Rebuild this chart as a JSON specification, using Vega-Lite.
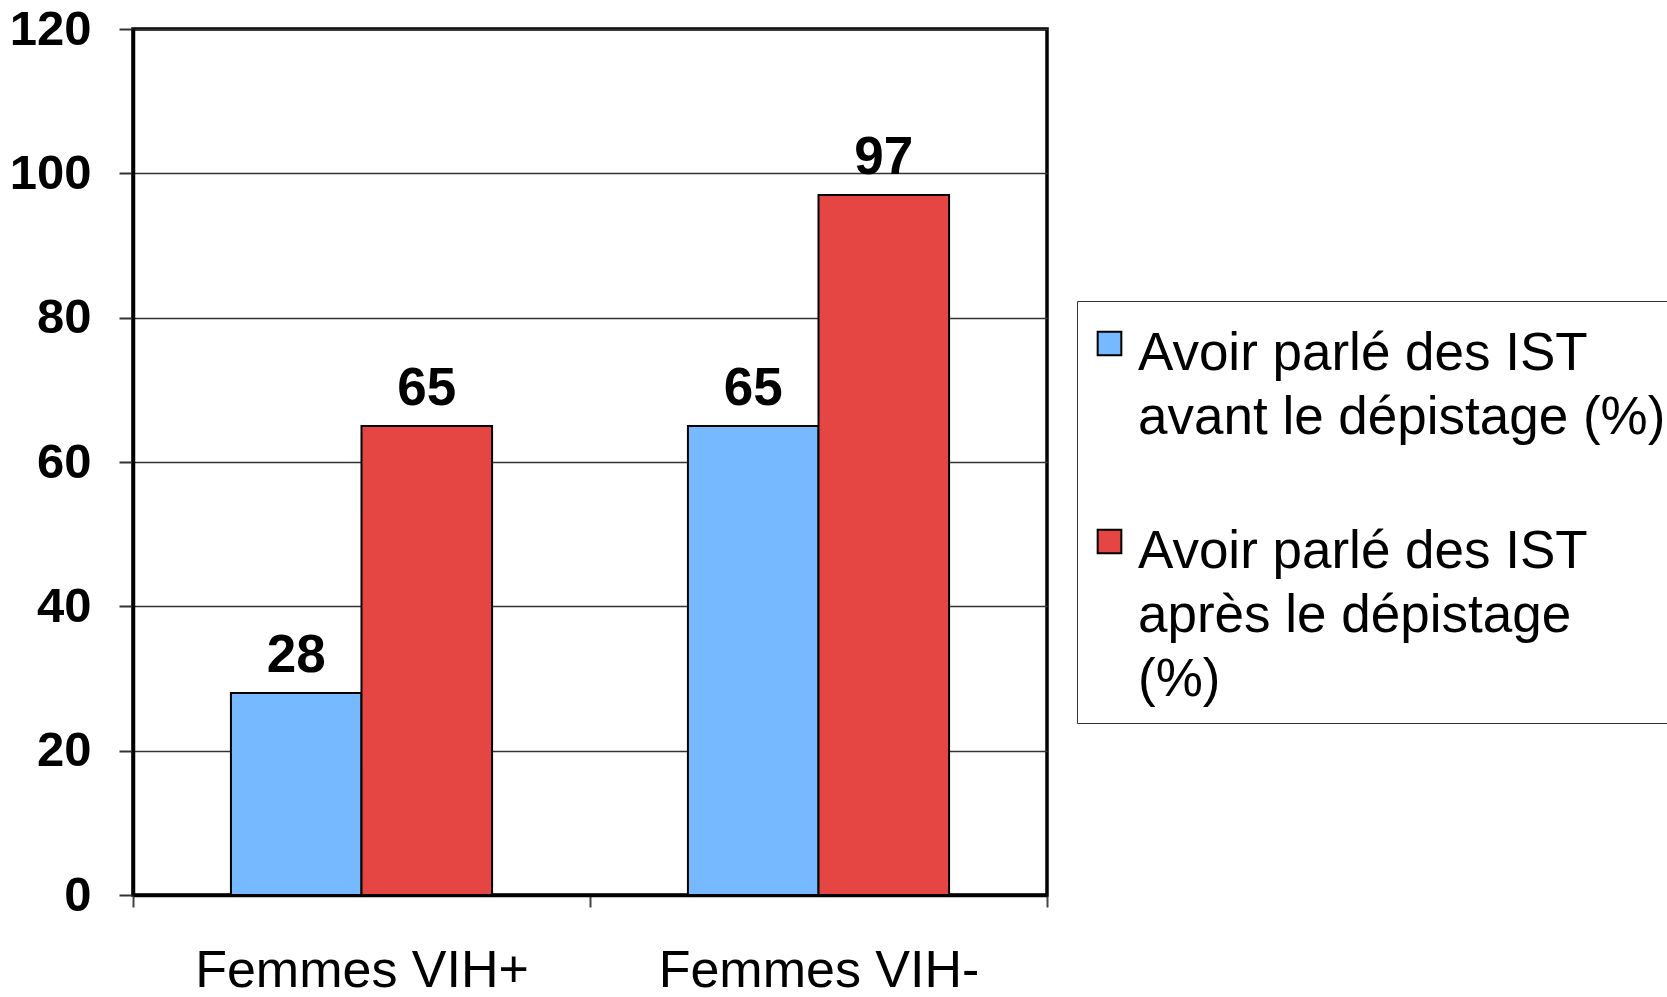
{
  "$schema": "https://vega.github.io/schema/vega-lite/v6.json",
  "autosize": "none",
  "padding": {"left": 133, "top": 29, "right": 620, "bottom": 102},
  "width": 914,
  "height": 866,
  "background": "white",
  "config": {
    "font": "Liberation Sans",
    "view": {"stroke": "black", "strokeWidth": 3.5}
  },
  "data": {
    "values": [
      {"groupe": "Femmes VIH+", "serie": "Avoir parlé des IST avant le dépistage (%)", "valeur": 28},
      {"groupe": "Femmes VIH+", "serie": "Avoir parlé des IST après le dépistage (%)", "valeur": 65},
      {"groupe": "Femmes VIH-", "serie": "Avoir parlé des IST avant le dépistage (%)", "valeur": 65},
      {"groupe": "Femmes VIH-", "serie": "Avoir parlé des IST après le dépistage (%)", "valeur": 97}
    ]
  },
  "encoding": {
    "x": {
      "field": "groupe", "type": "nominal", "sort": ["Femmes VIH+", "Femmes VIH-"],
      "scale": {"paddingInner": 0, "paddingOuter": 0},
      "axis": {
        "title": null, "labelAngle": 0, "tickBand": "extent",
        "labelFontSize": 52, "labelColor": "black", "labelPadding": 38, "labelLimit": 600,
        "tickSize": 12, "tickColor": "#444", "tickWidth": 2,
        "domainColor": "black", "domainWidth": 3.5
      }
    },
    "xOffset": {
      "field": "serie", "type": "nominal",
      "sort": ["Avoir parlé des IST avant le dépistage (%)", "Avoir parlé des IST après le dépistage (%)"],
      "scale": {"paddingInner": 0, "paddingOuter": 0.75}
    },
    "y": {
      "field": "valeur", "type": "quantitative",
      "scale": {"domain": [0, 120]},
      "axis": {
        "title": null, "values": [0, 20, 40, 60, 80, 100, 120],
        "labelFontSize": 49, "labelFontWeight": "bold", "labelColor": "black",
        "labelPadding": 28, "tickSize": 14, "tickColor": "#333", "tickWidth": 2,
        "domainColor": "black", "domainWidth": 3.5,
        "grid": true, "gridColor": "#333", "gridWidth": 1.5
      }
    }
  },
  "layer": [
    {
      "mark": {"type": "bar", "stroke": "black", "strokeWidth": 2},
      "encoding": {
        "color": {
          "field": "serie", "type": "nominal",
          "sort": ["Avoir parlé des IST avant le dépistage (%)", "Avoir parlé des IST après le dépistage (%)"],
          "scale": {
            "domain": ["Avoir parlé des IST avant le dépistage (%)", "Avoir parlé des IST après le dépistage (%)"],
            "range": ["#76B9FF", "#E54543"]
          },
          "legend": {
            "title": null,
            "orient": "none",
            "legendX": 944,
            "legendY": 272,
            "direction": "vertical",
            "strokeColor": "#333",
            "fillColor": "white",
            "padding": 16,
            "symbolType": "square",
            "symbolSize": 560,
            "symbolStrokeColor": "black",
            "symbolStrokeWidth": 2,
            "symbolOpacity": 1,
            "symbolOffset": -10,
            "labelFontSize": 53,
            "labelColor": "black",
            "labelLimit": 800,
            "labelOffset": 2,
            "labelBaseline": "top",
            "rowPadding": 70,
            "labelExpr": "indexof(datum.label, 'avant') >= 0 ? ['Avoir parlé des IST', 'avant le dépistage (%)'] : ['Avoir parlé des IST', 'après le dépistage', '(%)']",
            "encode": {
              "labels": {"update": {"lineHeight": {"value": 64}, "dy": {"value": -16}}}
            }
          }
        }
      }
    },
    {
      "mark": {"type": "text", "fontSize": 53, "fontWeight": "bold", "color": "black", "baseline": "alphabetic", "dy": -21},
      "encoding": {
        "text": {"field": "valeur", "type": "quantitative"}
      }
    }
  ]
}
